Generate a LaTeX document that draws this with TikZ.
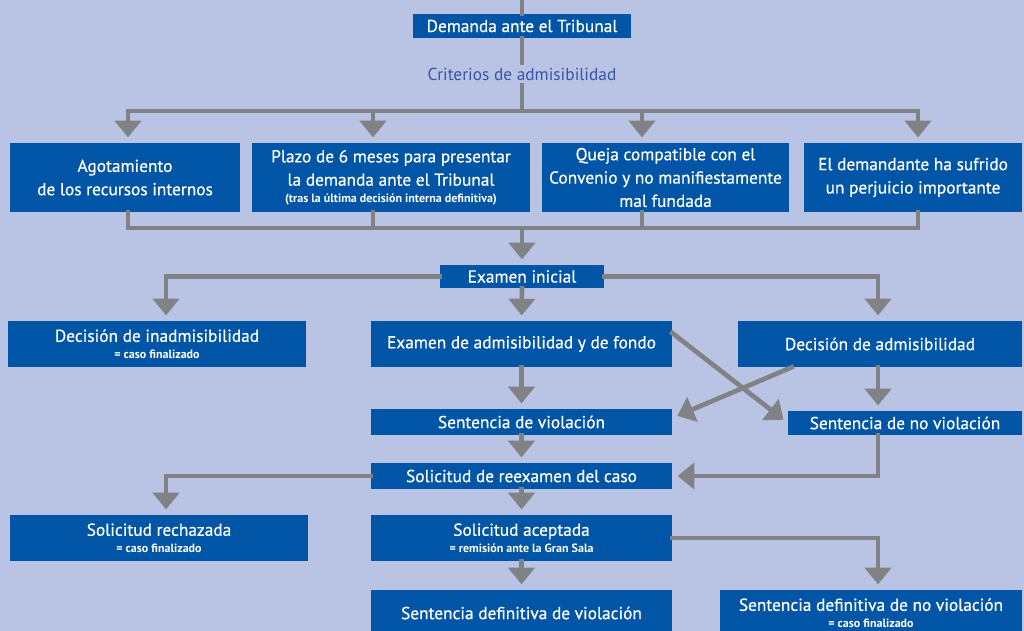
\documentclass[tikz,border=0pt]{standalone}
\usepackage{fontspec}
\setmainfont{PT Sans}[BoldFont={PT Sans},BoldFeatures={FakeBold=0.6}]
\newfontfamily\subfont{PT Sans Bold}
\usetikzlibrary{arrows.meta,positioning,calc}
\definecolor{bgcol}{HTML}{B9C3E4}
\definecolor{boxblue}{HTML}{0055A6}
\definecolor{linegrey}{HTML}{808285}
\definecolor{labblue}{HTML}{3A55A8}
\newcommand{\subline}[1]{{\fontsize{9}{9}\subfont #1}}

\begin{document}
\begin{tikzpicture}[x=0.75pt,y=-0.75pt,
	box/.style={fill=boxblue,text=white,align=center,inner sep=0pt,
		font=\fontsize{13}{17.5}\selectfont\bfseries},
	sz/.style 2 args={minimum width=#1*0.75pt,minimum height=#2*0.75pt},
	line/.style={draw=linegrey,line width=3.5pt,line cap=rect},
	arr/.style={line,-{Triangle[width=19.5pt,length=12.5pt]},shorten >=4pt}]
	\useasboundingbox (0,0) rectangle (1024,631);
	\clip (0,0) rectangle (1024,631);
	\fill[bgcol] (0,0) rectangle (1024,631);

	% demanda y criterios
	\node[box,sz={218}{24}] (dem) at (522,26) {Demanda ante el Tribunal};
	\node[text=labblue,font=\fontsize{13}{15}\selectfont] (crit) at (522,74) {Criterios de admisibilidad};

	\node[box,sz={230}{69}] (agot) at (125,177.5) {Agotamiento\\de los recursos internos};
	\node[box,sz={278}{69}] (plazo) at (391,177.5) {Plazo de 6 meses para presentar\\la demanda ante el Tribunal\\[-5pt]\subline{(tras la última decisión interna definitiva)}};
	\node[box,sz={247}{69}] (queja) at (665.5,177.5) {Queja compatible con el\\Convenio y no manifiestamente\\mal fundada};
	\node[box,sz={218}{69}] (perj) at (913,177.5) {El demandante ha sufrido\\un perjuicio importante};

	% examen inicial
	\node[box,sz={164}{23}] (exini) at (522,276.5) {Examen inicial};
	\node[box,sz={298}{46}] (inadm) at (157,344) {Decisión de inadmisibilidad\\[-5pt]\subline{= caso finalizado}};
	\node[box,sz={301}{46}] (exfondo) at (521.5,344) {Examen de admisibilidad y de fondo};
	\node[box,sz={284}{46}] (admis) at (880,344) {Decisión de admisibilidad};

	% sentencias
	\node[box,sz={301}{26}] (sviol) at (521.5,422) {Sentencia de violación};
	\node[box,sz={234}{24}] (snoviol) at (905,423) {Sentencia de no violación};
	\node[box,sz={301}{26}] (reex) at (521.5,476) {Solicitud de reexamen del caso};
	\node[box,sz={298}{46}] (rech) at (159,538) {Solicitud rechazada\\[-5pt]\subline{= caso finalizado}};
	\node[box,sz={301}{46}] (acep) at (521.5,538) {Solicitud aceptada\\[-5pt]\subline{= remisión ante la Gran Sala}};
	\node[box,sz={301}{46}] (sdviol) at (521.5,613) {Sentencia definitiva de violación};
	\node[box,sz={302}{46}] (sdnoviol) at (871,613) {Sentencia definitiva de no violación\\[-5pt]\subline{= caso finalizado}};

	\coordinate (entry) at ($(dem.north)+(0,-20)$);
	\coordinate (split) at (522,111);
	\coordinate (merge) at (522,228);
	\coordinate (c1) at ($(agot.north)+(3,0)$);
	\coordinate (c2) at ($(plazo.north)+(-18,0)$);
	\coordinate (c3) at ($(queja.north)+(-23.5,0)$);
	\coordinate (c4) at ($(perj.north)+(5,0)$);
	\coordinate (c5) at ($(admis.south)+(-2,0)$);

	\draw[line] (entry) -- (dem.north);
	\draw[line] (dem.south) -- (crit.north);
	\draw[line] (crit.south) -- (split);
	\draw[line] (c1 |- split) -- (c4 |- split);
	\foreach \c in {c1,c2,c3,c4}
		\draw[arr] (\c |- split) -- (\c);
	\draw[line] (c1 |- agot.south) -- (c1 |- merge) -- (c4 |- merge) -- (c4 |- perj.south);
	\foreach \c in {c2,c3}
		\draw[line] (\c |- agot.south) -- (\c |- merge);
	\draw[arr] (merge) -- (exini.north);

	\draw[arr] (exini.west) -| ($(inadm.north)+(9,0)$);
	\draw[arr] (exini.east) -| (c5 |- admis.north);
	\draw[arr] (exini.south) -- (exfondo.north);
	\draw[arr] (exfondo.south) -- (sviol.north);
	\draw[arr] (c5) -- (c5 |- snoviol.north);
	\draw[arr] ($(exfondo.east)+(0,-11)$) -- (snoviol.west);
	\draw[arr] ($(admis.south west)+(54,0)$) -- ($(sviol.east)+(0,-4)$);

	\draw[arr] (sviol.south) -- (reex.north);
	\draw[arr] (c5 |- snoviol.south) |- (reex.east);
	\draw[arr] (reex.west) -| ($(rech.north)+(7,0)$);
	\draw[arr] (reex.south) -- (acep.north);
	\draw[arr] (acep.east) -| (c5 |- sdnoviol.north);
	\draw[arr] (acep.south) -- (sdviol.north);
\end{tikzpicture}
\end{document}
